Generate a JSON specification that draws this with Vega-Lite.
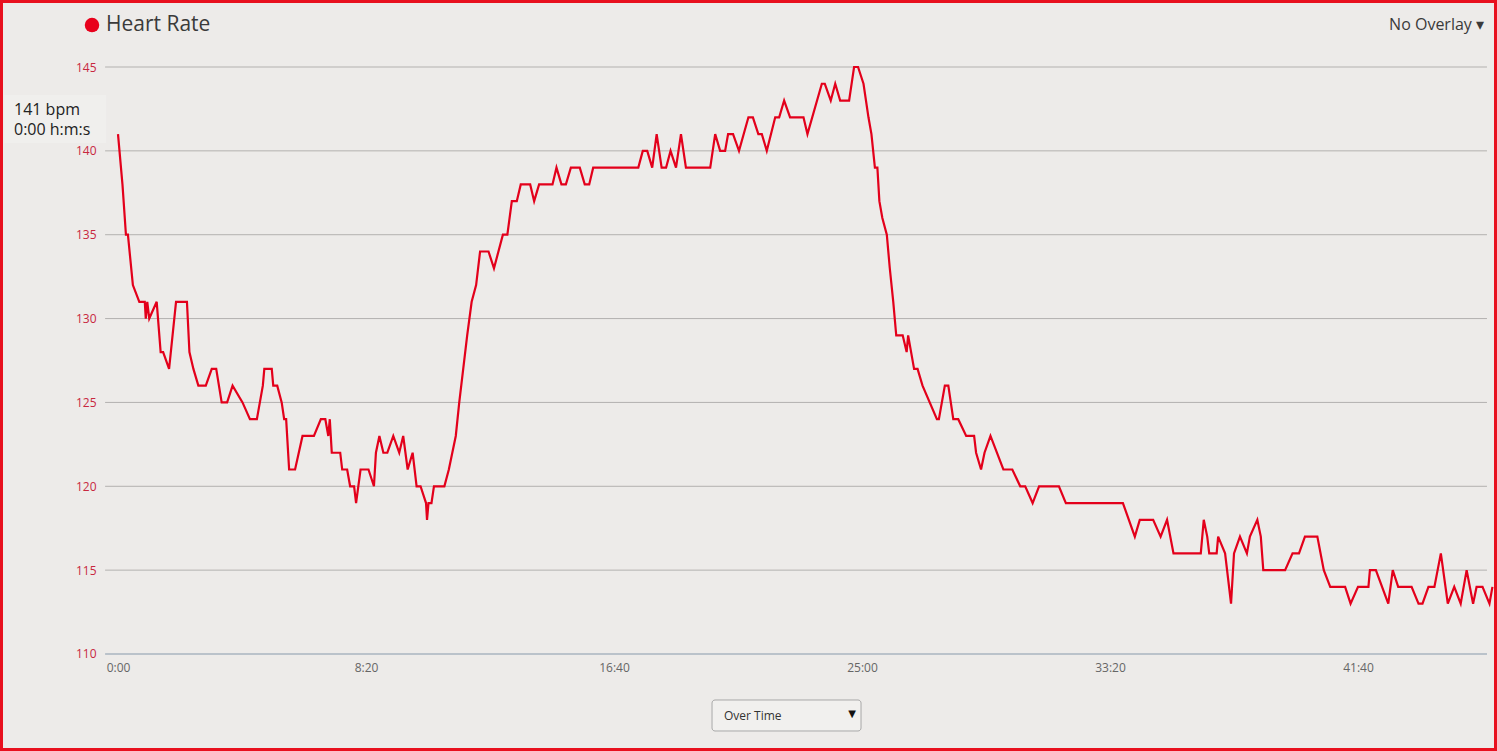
{
  "$schema": "https://vega.github.io/schema/vega-lite/v6.json",
  "width": 1497,
  "height": 751,
  "autosize": "none",
  "padding": 0,
  "background": "#edebe9",
  "config": {
    "view": {"stroke": "#e8101e", "strokeWidth": 6},
    "font": "Open Sans",
    "axis": {"labelFont": "Open Sans"}
  },
  "datasets": {
    "hr": [
      {"t": 0, "hr": 141}, {"t": 9, "hr": 138}, {"t": 16, "hr": 135}, {"t": 20, "hr": 135},
      {"t": 30, "hr": 132}, {"t": 43, "hr": 131}, {"t": 54, "hr": 131}, {"t": 56, "hr": 130},
      {"t": 59, "hr": 131}, {"t": 63, "hr": 130}, {"t": 78, "hr": 131}, {"t": 86, "hr": 128},
      {"t": 91, "hr": 128}, {"t": 103, "hr": 127}, {"t": 117, "hr": 131}, {"t": 139, "hr": 131},
      {"t": 144, "hr": 128}, {"t": 152, "hr": 127}, {"t": 162, "hr": 126}, {"t": 177, "hr": 126},
      {"t": 189, "hr": 127}, {"t": 198, "hr": 127}, {"t": 209, "hr": 125}, {"t": 220, "hr": 125},
      {"t": 231, "hr": 126}, {"t": 251, "hr": 125}, {"t": 266, "hr": 124}, {"t": 280, "hr": 124},
      {"t": 292, "hr": 126}, {"t": 295, "hr": 127}, {"t": 310, "hr": 127}, {"t": 313, "hr": 126},
      {"t": 321, "hr": 126}, {"t": 330, "hr": 125}, {"t": 335, "hr": 124}, {"t": 339, "hr": 124},
      {"t": 345, "hr": 121}, {"t": 357, "hr": 121}, {"t": 372, "hr": 123}, {"t": 395, "hr": 123},
      {"t": 409, "hr": 124}, {"t": 418, "hr": 124}, {"t": 424, "hr": 123}, {"t": 427, "hr": 124},
      {"t": 431, "hr": 122}, {"t": 448, "hr": 122}, {"t": 452, "hr": 121}, {"t": 462, "hr": 121},
      {"t": 468, "hr": 120}, {"t": 476, "hr": 120}, {"t": 480, "hr": 119}, {"t": 489, "hr": 121},
      {"t": 505, "hr": 121}, {"t": 516, "hr": 120}, {"t": 520, "hr": 122}, {"t": 527, "hr": 123},
      {"t": 535, "hr": 122}, {"t": 543, "hr": 122}, {"t": 555, "hr": 123}, {"t": 567, "hr": 122},
      {"t": 575, "hr": 123}, {"t": 584, "hr": 121}, {"t": 594, "hr": 122}, {"t": 602, "hr": 120},
      {"t": 610, "hr": 120}, {"t": 621, "hr": 119}, {"t": 623, "hr": 118}, {"t": 626, "hr": 119},
      {"t": 632, "hr": 119}, {"t": 637, "hr": 120}, {"t": 658, "hr": 120}, {"t": 667, "hr": 121},
      {"t": 681, "hr": 123}, {"t": 688, "hr": 125}, {"t": 696, "hr": 127}, {"t": 704, "hr": 129},
      {"t": 713, "hr": 131}, {"t": 722, "hr": 132}, {"t": 730, "hr": 134}, {"t": 747, "hr": 134},
      {"t": 758, "hr": 133}, {"t": 776, "hr": 135}, {"t": 785, "hr": 135}, {"t": 794, "hr": 137},
      {"t": 804, "hr": 137}, {"t": 812, "hr": 138}, {"t": 831, "hr": 138}, {"t": 839, "hr": 137},
      {"t": 849, "hr": 138}, {"t": 876, "hr": 138}, {"t": 884, "hr": 139}, {"t": 894, "hr": 138},
      {"t": 903, "hr": 138}, {"t": 913, "hr": 139}, {"t": 931, "hr": 139}, {"t": 941, "hr": 138},
      {"t": 950, "hr": 138}, {"t": 958, "hr": 139}, {"t": 1049, "hr": 139}, {"t": 1058, "hr": 140},
      {"t": 1067, "hr": 140}, {"t": 1077, "hr": 139}, {"t": 1086, "hr": 141}, {"t": 1096, "hr": 139},
      {"t": 1105, "hr": 139}, {"t": 1114, "hr": 140}, {"t": 1125, "hr": 139}, {"t": 1135, "hr": 141},
      {"t": 1145, "hr": 139}, {"t": 1194, "hr": 139}, {"t": 1204, "hr": 141}, {"t": 1214, "hr": 140},
      {"t": 1224, "hr": 140}, {"t": 1230, "hr": 141}, {"t": 1240, "hr": 141}, {"t": 1252, "hr": 140},
      {"t": 1271, "hr": 142}, {"t": 1280, "hr": 142}, {"t": 1291, "hr": 141}, {"t": 1298, "hr": 141},
      {"t": 1308, "hr": 140}, {"t": 1325, "hr": 142}, {"t": 1333, "hr": 142}, {"t": 1343, "hr": 143},
      {"t": 1355, "hr": 142}, {"t": 1382, "hr": 142}, {"t": 1390, "hr": 141}, {"t": 1419, "hr": 144},
      {"t": 1425, "hr": 144}, {"t": 1437, "hr": 143}, {"t": 1446, "hr": 144}, {"t": 1456, "hr": 143},
      {"t": 1474, "hr": 143}, {"t": 1484, "hr": 145}, {"t": 1492, "hr": 145}, {"t": 1503, "hr": 144},
      {"t": 1513, "hr": 142}, {"t": 1519, "hr": 141}, {"t": 1526, "hr": 139}, {"t": 1531, "hr": 139},
      {"t": 1535, "hr": 137}, {"t": 1541, "hr": 136}, {"t": 1550, "hr": 135}, {"t": 1556, "hr": 133},
      {"t": 1563, "hr": 131}, {"t": 1569, "hr": 129}, {"t": 1582, "hr": 129}, {"t": 1590, "hr": 128},
      {"t": 1593, "hr": 129}, {"t": 1605, "hr": 127}, {"t": 1612, "hr": 127}, {"t": 1622, "hr": 126},
      {"t": 1651, "hr": 124}, {"t": 1655, "hr": 124}, {"t": 1667, "hr": 126}, {"t": 1674, "hr": 126},
      {"t": 1684, "hr": 124}, {"t": 1694, "hr": 124}, {"t": 1710, "hr": 123}, {"t": 1726, "hr": 123},
      {"t": 1730, "hr": 122}, {"t": 1740, "hr": 121}, {"t": 1747, "hr": 122}, {"t": 1759, "hr": 123},
      {"t": 1785, "hr": 121}, {"t": 1803, "hr": 121}, {"t": 1819, "hr": 120}, {"t": 1829, "hr": 120},
      {"t": 1844, "hr": 119}, {"t": 1857, "hr": 120}, {"t": 1897, "hr": 120}, {"t": 1911, "hr": 119},
      {"t": 2026, "hr": 119}, {"t": 2050, "hr": 117}, {"t": 2060, "hr": 118}, {"t": 2087, "hr": 118},
      {"t": 2102, "hr": 117}, {"t": 2115, "hr": 118}, {"t": 2128, "hr": 116}, {"t": 2183, "hr": 116},
      {"t": 2189, "hr": 118}, {"t": 2196, "hr": 117}, {"t": 2200, "hr": 116}, {"t": 2215, "hr": 116},
      {"t": 2218, "hr": 117}, {"t": 2232, "hr": 116}, {"t": 2244, "hr": 113}, {"t": 2250, "hr": 116},
      {"t": 2262, "hr": 117}, {"t": 2276, "hr": 116}, {"t": 2282, "hr": 117}, {"t": 2297, "hr": 118},
      {"t": 2304, "hr": 117}, {"t": 2309, "hr": 115}, {"t": 2353, "hr": 115}, {"t": 2368, "hr": 116},
      {"t": 2381, "hr": 116}, {"t": 2393, "hr": 117}, {"t": 2418, "hr": 117}, {"t": 2431, "hr": 115},
      {"t": 2444, "hr": 114}, {"t": 2474, "hr": 114}, {"t": 2485, "hr": 113}, {"t": 2500, "hr": 114},
      {"t": 2521, "hr": 114}, {"t": 2524, "hr": 115}, {"t": 2536, "hr": 115}, {"t": 2561, "hr": 113},
      {"t": 2570, "hr": 115}, {"t": 2581, "hr": 114}, {"t": 2608, "hr": 114}, {"t": 2622, "hr": 113},
      {"t": 2630, "hr": 113}, {"t": 2642, "hr": 114}, {"t": 2654, "hr": 114}, {"t": 2667, "hr": 116},
      {"t": 2681, "hr": 113}, {"t": 2694, "hr": 114}, {"t": 2707, "hr": 113}, {"t": 2719, "hr": 115},
      {"t": 2732, "hr": 113}, {"t": 2739, "hr": 114}, {"t": 2751, "hr": 114}, {"t": 2765, "hr": 113},
      {"t": 2771, "hr": 114}
    ],
    "grid": [
      {"v": 115}, {"v": 120}, {"v": 125}, {"v": 130}, {"v": 135}, {"v": 140}, {"v": 145}
    ],
    "one": [{}]
  },
  "layer": [
    {
      "data": {"name": "grid"},
      "mark": {"type": "rule", "color": "#b3b1af", "strokeWidth": 1},
      "encoding": {
        "x": {
          "datum": -26,
          "type": "quantitative",
          "scale": {"domain": [-237.9, 2780.2], "nice": false, "zero": false},
          "axis": {
            "orient": "bottom",
            "offset": -97,
            "values": [0, 500, 1000, 1500, 2000, 2500],
            "labelExpr": "floor(datum.value / 60) + ':' + (datum.value % 60 < 10 ? '0' : '') + (datum.value % 60)",
            "domain": false,
            "ticks": false,
            "grid": false,
            "labelPadding": 8,
            "labelFontSize": 12,
            "labelColor": "#666666",
            "title": null
          }
        },
        "x2": {"datum": 2760},
        "y": {
          "field": "v",
          "type": "quantitative",
          "scale": {"domain": [104.216, 148.995], "nice": false, "zero": false},
          "axis": {
            "orient": "left",
            "offset": -100,
            "values": [110, 115, 120, 125, 130, 135, 140, 145],
            "domain": false,
            "ticks": false,
            "grid": false,
            "labelPadding": 4,
            "labelFontSize": 12,
            "labelColor": "#c8283f",
            "title": null
          }
        }
      }
    },
    {
      "data": {"name": "one"},
      "mark": {"type": "rule", "color": "#a9b4bf", "strokeWidth": 1.5},
      "encoding": {
        "x": {"datum": -26, "type": "quantitative"},
        "x2": {"datum": 2760},
        "y": {"datum": 110, "type": "quantitative"}
      }
    },
    {
      "data": {"name": "hr"},
      "mark": {"type": "line", "color": "#e3001b", "strokeWidth": 2.2, "interpolate": "linear"},
      "encoding": {
        "x": {"field": "t", "type": "quantitative"},
        "y": {"field": "hr", "type": "quantitative"}
      }
    },
    {
      "data": {"name": "one"},
      "mark": {"type": "point", "filled": true, "color": "#e8001c", "size": 210, "opacity": 1},
      "encoding": {
        "x": {"datum": -52.4, "type": "quantitative"},
        "y": {"datum": 147.504, "type": "quantitative"}
      }
    },
    {
      "data": {"name": "one"},
      "mark": {"type": "text", "text": "Heart Rate", "align": "left", "baseline": "middle", "fontSize": 21, "color": "#3a3a3a", "font": "Open Sans"},
      "encoding": {
        "x": {"datum": -24.2, "type": "quantitative"},
        "y": {"datum": 147.504, "type": "quantitative"}
      }
    },
    {
      "data": {"name": "one"},
      "mark": {"type": "text", "text": "No Overlay ▾", "align": "right", "baseline": "middle", "fontSize": 16, "color": "#3a3a3a", "font": "Open Sans"},
      "encoding": {
        "x": {"datum": 2754, "type": "quantitative"},
        "y": {"datum": 147.504, "type": "quantitative"}
      }
    },
    {
      "data": {"name": "one"},
      "mark": {"type": "rect", "color": "#f0efed"},
      "encoding": {
        "x": {"datum": -229, "type": "quantitative"},
        "x2": {"datum": -24},
        "y": {"datum": 143.33, "type": "quantitative"},
        "y2": {"datum": 140.47}
      }
    },
    {
      "data": {"name": "one"},
      "mark": {"type": "text", "text": "141 bpm", "align": "left", "baseline": "middle", "fontSize": 16, "color": "#222222", "font": "Open Sans"},
      "encoding": {
        "x": {"datum": -209.7, "type": "quantitative"},
        "y": {"datum": 142.436, "type": "quantitative"}
      }
    },
    {
      "data": {"name": "one"},
      "mark": {"type": "text", "text": "0:00 h:m:s", "align": "left", "baseline": "middle", "fontSize": 16, "color": "#222222", "font": "Open Sans"},
      "encoding": {
        "x": {"datum": -209.7, "type": "quantitative"},
        "y": {"datum": 141.27, "type": "quantitative"}
      }
    },
    {
      "data": {"name": "one"},
      "mark": {"type": "rect", "color": "#f1f0ee", "stroke": "#a8a8a8", "strokeWidth": 1, "cornerRadius": 3},
      "encoding": {
        "x": {"datum": 1197.6, "type": "quantitative"},
        "x2": {"datum": 1498},
        "y": {"datum": 107.257, "type": "quantitative"},
        "y2": {"datum": 105.409}
      }
    },
    {
      "data": {"name": "one"},
      "mark": {"type": "text", "text": "Over Time", "align": "left", "baseline": "middle", "fontSize": 12, "color": "#333333", "font": "Open Sans"},
      "encoding": {
        "x": {"datum": 1221.8, "type": "quantitative"},
        "y": {"datum": 106.30, "type": "quantitative"}
      }
    },
    {
      "data": {"name": "one"},
      "mark": {"type": "text", "text": "▼", "align": "center", "baseline": "middle", "fontSize": 10, "color": "#111111", "font": "DejaVu Sans"},
      "encoding": {
        "x": {"datum": 1479.8, "type": "quantitative"},
        "y": {"datum": 106.42, "type": "quantitative"}
      }
    }
  ]
}
